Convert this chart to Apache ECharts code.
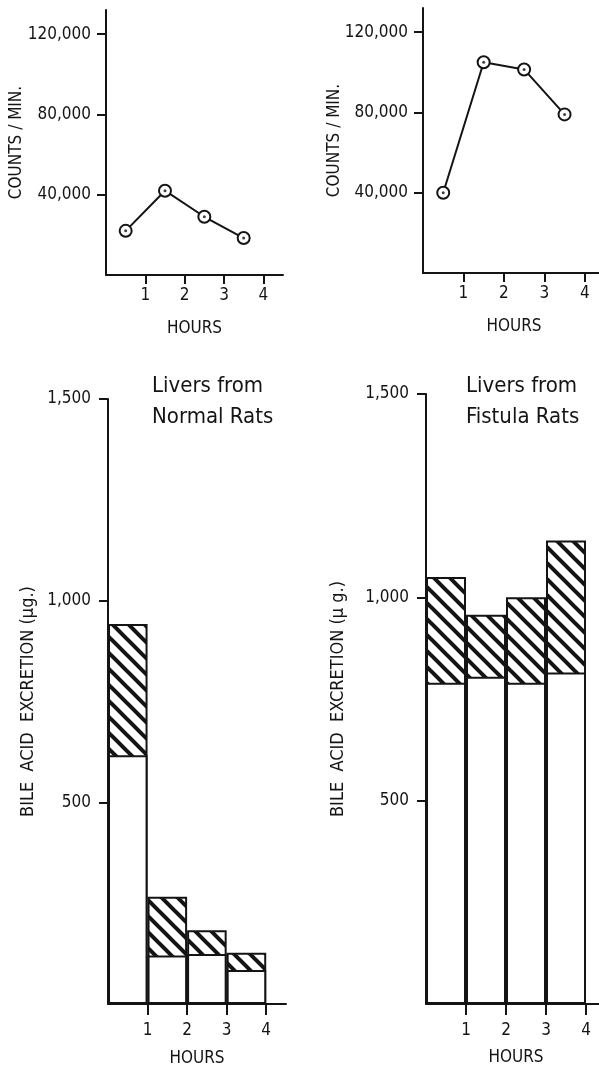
<!DOCTYPE html>
<html>
<head>
<meta charset="utf-8">
<script src="https://cdn.jsdelivr.net/npm/echarts@6/dist/echarts.min.js"></script>
<style>
  html, body { margin: 0; padding: 0; background: #fff; }
  #main { width: 599px; height: 1069px; }
</style>
</head>
<body>
<div id="main"></div>
<script>
// hours at the middle of each collection period
var hours = [0.5, 1.5, 2.5, 3.5];
var hourTicks = [1, 2, 3, 4];
var countTicks = [40000, 80000, 120000];
var bileTicks = [500, 1000, 1500];

// counts / min (top panels)
var normalCounts = [22000, 42000, 29000, 18400];
var fistulaCounts = [40000, 105000, 101400, 79000];

// bile acid excretion, plain part and total height (bottom panels)
var normalPlain = [617, 120, 124, 84];
var normalTotal = [942, 266, 183, 127];
var fistulaPlain = [790, 805, 790, 815];
var fistulaTotal = [1050, 957, 1000, 1140];

var ink = '#141414';
var font = "'DejaVu Sans Condensed', 'DejaVu Sans', sans-serif";

// diagonal hatching tile
function makeHatch() {
    var s = 16;
    var c = document.createElement('canvas');
    c.width = s; c.height = s;
    var ctx = c.getContext('2d');
    ctx.fillStyle = '#fff';
    ctx.fillRect(0, 0, s, s);
    ctx.strokeStyle = ink;
    ctx.lineWidth = 4;
    [-s, 0, s].forEach(function (off) {
        ctx.beginPath();
        ctx.moveTo(-2, off - 2);
        ctx.lineTo(s + 2, off + s + 2);
        ctx.stroke();
    });
    return c;
}
var hatch = makeHatch();

function fmt(v) {
    return v.toLocaleString('en-US');
}

function hourAxis(gi, margin, nameGap, tickLen) {
    return {
        type: 'value', gridIndex: gi, min: 0, max: 4.5,
        axisLine: { show: true, onZero: false, lineStyle: { color: ink, width: 2 } },
        axisTick: { show: true, customValues: hourTicks, length: tickLen, lineStyle: { color: ink, width: 2 } },
        axisLabel: { customValues: hourTicks, margin: margin, color: ink, fontSize: 17, fontFamily: font },
        splitLine: { show: false },
        name: 'HOURS', nameLocation: 'middle', nameGap: nameGap,
        nameTextStyle: { color: ink, fontSize: 17, fontFamily: font }
    };
}

function valAxis(gi, max, ticks, name, margin, nameGap, nameSize) {
    return {
        type: 'value', gridIndex: gi, min: 0, max: max,
        axisLine: { show: true, onZero: false, lineStyle: { color: ink, width: 2 } },
        axisTick: { show: true, customValues: ticks, length: 9, lineStyle: { color: ink, width: 2 } },
        axisLabel: { customValues: ticks, margin: margin, color: ink, fontSize: 17, fontFamily: font, formatter: fmt },
        splitLine: { show: false },
        name: name, nameLocation: 'middle', nameGap: nameGap, nameMoveOverlap: false,
        nameTextStyle: { color: ink, fontSize: nameSize, fontFamily: font }
    };
}

function pairs(a) {
    return hours.map(function (h, i) { return [h, a[i]]; });
}

function lineSeries(gi, vals) {
    return [{
        type: 'line', xAxisIndex: gi, yAxisIndex: gi, data: pairs(vals),
        symbol: 'circle', symbolSize: 12,
        lineStyle: { color: ink, width: 2 },
        itemStyle: { color: '#fff', borderColor: ink, borderWidth: 2 }
    }, {
        type: 'scatter', xAxisIndex: gi, yAxisIndex: gi, data: pairs(vals),
        symbolSize: 3, itemStyle: { color: ink }, z: 5
    }];
}

// hatched column to the total, plain column drawn over its lower part
function barSeries(gi, plain, total) {
    return [{
        type: 'bar', xAxisIndex: gi, yAxisIndex: gi, barWidth: '100%', barGap: '-100%',
        data: pairs(total),
        itemStyle: { color: { image: hatch, repeat: 'repeat' }, borderColor: ink, borderWidth: 2 }
    }, {
        type: 'bar', xAxisIndex: gi, yAxisIndex: gi, barWidth: '100%', barGap: '-100%',
        data: pairs(plain),
        itemStyle: { color: '#fff', borderColor: ink, borderWidth: 2 }
    }];
}

var myChart = echarts.init(document.getElementById('main'));
var option = {
    animation: false,
    backgroundColor: '#fff',
    title: [
        { text: 'Livers from\nNormal Rats', left: 147, top: 366,
          textStyle: { color: ink, fontSize: 22, lineHeight: 31, fontWeight: 'normal', fontFamily: font } },
        { text: 'Livers from\nFistula Rats', left: 461, top: 366,
          textStyle: { color: ink, fontSize: 22, lineHeight: 31, fontWeight: 'normal', fontFamily: font } }
    ],
    grid: [
        { left: 106, top: 10, width: 177, height: 265, outerBoundsMode: 'none' },
        { left: 423, top: 8, width: 182, height: 265, outerBoundsMode: 'none' },
        { left: 108, top: 399, width: 178, height: 605, outerBoundsMode: 'none' },
        { left: 426, top: 394, width: 180, height: 610, outerBoundsMode: 'none' }
    ],
    xAxis: [
        hourAxis(0, 12, 45, 9),
        hourAxis(1, 12, 45, 9),
        hourAxis(2, 18, 46, 11),
        hourAxis(3, 18, 45, 11)
    ],
    yAxis: [
        valAxis(0, 132000, countTicks, 'COUNTS / MIN.', 15, 81, 17),
        valAxis(1, 132000, countTicks, 'COUNTS / MIN.', 15, 80, 17),
        valAxis(2, 1500, bileTicks, 'BILE  ACID  EXCRETION (μg.)', 17, 71, 18),
        valAxis(3, 1500, bileTicks, 'BILE  ACID  EXCRETION (μ g.)', 17, 79, 18)
    ],
    series: [].concat(
        lineSeries(0, normalCounts),
        lineSeries(1, fistulaCounts),
        barSeries(2, normalPlain, normalTotal),
        barSeries(3, fistulaPlain, fistulaTotal)
    )
};
myChart.setOption(option);
window.onresize = myChart.resize;
</script>
</body>
</html>
